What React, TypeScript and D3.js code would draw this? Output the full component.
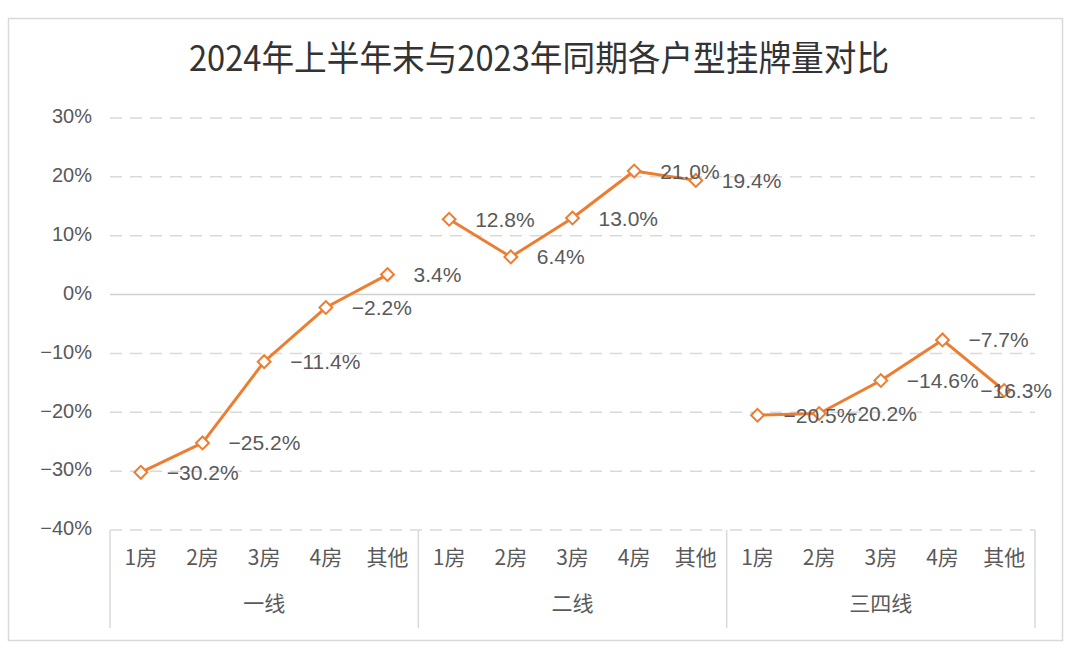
import { useEffect, useRef } from 'react';
import * as d3 from 'd3';

const groups = ['一线', '二线', '三四线'];
const rooms = ['1房', '2房', '3房', '4房', '其他'];
const tier1 = [-30.2, -25.2, -11.4, -2.2, 3.4];
const tier2 = [12.8, 6.4, 13.0, 21.0, 19.4];
const tier34 = [-20.5, -20.2, -14.6, -7.7, -16.3];
const yTicks = [30, 20, 10, 0, -10, -20, -30, -40];

const W = 1080;
const H = 658;
const ORANGE = '#ED7D31';
const GRAY = '#595959';
const FONT = 'Liberation Sans, Arial, sans-serif';
const CJK = '"Noto Sans CJK SC", sans-serif';

const fmt = (v: number) => (v < 0 ? '\u2212' : '') + Math.abs(v).toFixed(1) + '%';

export default function App() {
  const svgRef = useRef<SVGSVGElement>(null);

  useEffect(() => {
    if (!svgRef.current) return;
    const svg = d3.select(svgRef.current);
    svg.selectAll('*').remove();

    const series = [tier1, tier2, tier34];
    const keys = groups.flatMap(g => rooms.map(r => `${g}-${r}`));

    const x = d3.scaleBand().domain(keys).range([110, 1035]).padding(0);
    const y = d3.scaleLinear().domain([-40, 30]).range([530, 118]);
    const cx = (g: number, i: number) => (x(`${groups[g]}-${rooms[i]}`) ?? 0) + x.bandwidth() / 2;

    // frame
    svg.append('rect')
      .attr('x', 8.5).attr('y', 18.5)
      .attr('width', 1054).attr('height', 622)
      .attr('fill', '#fff')
      .attr('stroke', '#d9d9d9')
      .attr('stroke-width', 1.5);

    // title
    svg.append('text')
      .attr('x', 539).attr('y', 71)
      .attr('text-anchor', 'middle')
      .attr('font-family', CJK)
      .attr('font-size', 33)
      .attr('fill', '#333')
      .attr('transform', 'translate(539 0) scale(0.99 1.06) translate(-539 -4)')
      .text('2024年上半年末与2023年同期各户型挂牌量对比');

    // grid + y labels
    yTicks.forEach(t => {
      svg.append('line')
        .attr('x1', 110).attr('x2', 1035)
        .attr('y1', y(t)).attr('y2', y(t))
        .attr('stroke', t === 0 ? '#d0d0d0' : '#d9d9d9')
        .attr('stroke-width', 1.5)
        .attr('stroke-dasharray', t === 0 ? null : '12 8');
      svg.append('text')
        .attr('x', 92).attr('y', y(t))
        .attr('text-anchor', 'end')
        .attr('dominant-baseline', 'middle')
        .attr('font-family', FONT)
        .attr('font-size', 20)
        .attr('fill', GRAY)
        .text((t < 0 ? '\u2212' : '') + Math.abs(t) + '%');
    });

    // category axis
    const bottom = y(-40);
    const sepX = [110, ...groups.map((_, g) => (x(`${groups[g]}-${rooms[4]}`) ?? 0) + x.bandwidth())];
    sepX.forEach(sx => {
      svg.append('line')
        .attr('x1', sx).attr('x2', sx)
        .attr('y1', bottom).attr('y2', 628)
        .attr('stroke', '#d9d9d9')
        .attr('stroke-width', 1.5);
    });
    groups.forEach((g, gi) => {
      rooms.forEach((r, i) => {
        svg.append('text')
          .attr('x', cx(gi, i)).attr('y', 559)
          .attr('text-anchor', 'middle')
          .attr('dominant-baseline', 'middle')
          .attr('font-family', CJK)
          .attr('font-size', 21)
          .attr('fill', GRAY)
          .text(r);
      });
      svg.append('text')
        .attr('x', (cx(gi, 0) + cx(gi, 4)) / 2).attr('y', 605)
        .attr('text-anchor', 'middle')
        .attr('dominant-baseline', 'middle')
        .attr('font-family', CJK)
        .attr('font-size', 21)
        .attr('fill', GRAY)
        .text(g);
    });

    // lines + markers
    series.forEach((vals, gi) => {
      const gen = d3.line<number>()
        .x((_, i) => cx(gi, i))
        .y(d => y(d));
      svg.append('path')
        .attr('d', gen(vals) || '')
        .attr('fill', 'none')
        .attr('stroke', ORANGE)
        .attr('stroke-width', 3)
        .attr('stroke-linejoin', 'round');

      vals.forEach((v, i) => {
        svg.append('path')
          .attr('d', d3.symbol(d3.symbolSquare, 82)() || '')
          .attr('transform', `translate(${cx(gi, i)},${y(v)}) rotate(45)`)
          .attr('fill', '#fff')
          .attr('stroke', ORANGE)
          .attr('stroke-width', 2);
      });
    });

    // data labels (kept inside the plot area on the right)
    const rightLimit = 1052;
    series.forEach((vals, gi) => {
      vals.forEach((v, i) => {
        const t = svg.append('text')
          .attr('x', cx(gi, i) + 26).attr('y', y(v) + 2)
          .attr('dominant-baseline', 'middle')
          .attr('font-family', FONT)
          .attr('font-size', 21)
          .attr('fill', GRAY)
          .text(fmt(v));
        const node = t.node() as SVGTextElement;
        const w = node.getComputedTextLength();
        if (cx(gi, i) + 26 + w > rightLimit) t.attr('x', rightLimit - w);
      });
    });
  }, []);

  return (
    <svg
      ref={svgRef}
      width={W}
      height={H}
      viewBox={`0 0 ${W} ${H}`}
      style={{ position: 'absolute', left: 0, top: 0, background: '#fff' }}
    />
  );
}
